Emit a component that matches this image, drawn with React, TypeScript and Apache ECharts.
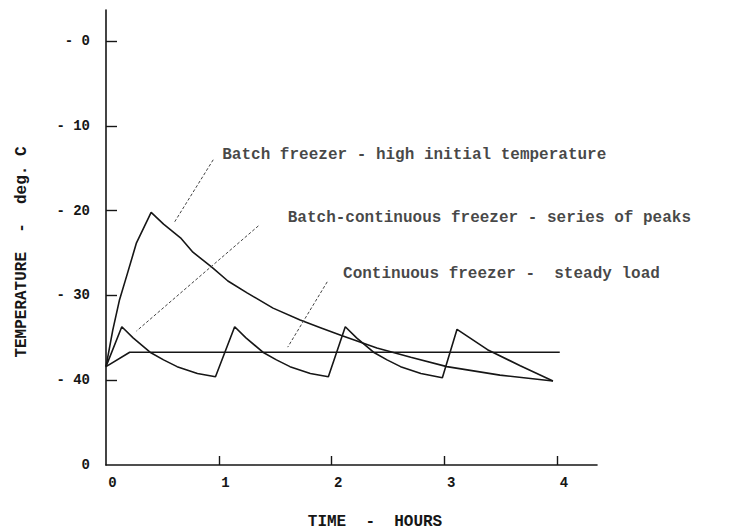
import React, { useEffect, useRef } from "react";
import * as echarts from "echarts";

// Time in hours, temperature in deg C
const batchFreezer: [number, number][] = [
  [0, -38.4], [0.06, -34.1], [0.12, -30.5], [0.19, -27.4], [0.27, -23.8], [0.4, -20.2],
  [0.51, -21.6], [0.66, -23.2], [0.77, -24.9], [0.94, -26.7], [1.08, -28.3],
  [1.25, -29.7], [1.48, -31.5], [1.72, -32.9], [1.9, -33.8], [2.08, -34.7],
  [2.4, -36.2], [2.7, -37.3], [3.02, -38.4], [3.49, -39.4], [3.96, -40.1],
];
const batchContinuousFreezer: [number, number][] = [
  [0, -38.4], [0.14, -33.7], [0.24, -35.0], [0.39, -36.7], [0.51, -37.6], [0.63, -38.4], [0.81, -39.2], [0.97, -39.6],
  [1.14, -33.7], [1.24, -35.0], [1.39, -36.7], [1.51, -37.6], [1.63, -38.4], [1.81, -39.2], [1.97, -39.6],
  [2.12, -33.7], [2.22, -35.0], [2.37, -36.7], [2.49, -37.6], [2.61, -38.4], [2.79, -39.2], [2.98, -39.7],
  [3.11, -34.0], [3.38, -36.4], [3.67, -38.3], [3.96, -40.1],
];
const continuousFreezer: [number, number][] = [
  [0, -38.4], [0.21, -36.7], [4.02, -36.7],
];

const annotationTexts = [
  "Batch freezer - high initial temperature",
  "Batch-continuous freezer - series of peaks",
  "Continuous freezer -  steady load",
];
const annotationAnchors: [number, number][] = [
  [1.03, -13.4], [1.61, -20.9], [2.1, -27.5],
];
const leaderLines: [number, number][][] = [
  [[0.95, -14.0], [0.6, -21.5]],
  [[1.35, -21.8], [0.27, -34.2]],
  [[1.96, -28.4], [1.61, -36.1]],
];

const xTickValues = [0, 1, 2, 3, 4];
const xTickLabels = ["0", "1", "2", "3", "4"];
const yTickValues = [-50, -40, -30, -20, -10, 0];
const yTickLabels = ["0", "- 40", "- 30", "- 20", "- 10", "- 0"];

const xTitle = "TIME  -  HOURS";
const yTitle = "TEMPERATURE  -  deg. C";

const FONT = "'Liberation Mono', 'DejaVu Sans Mono', monospace";
const INK = "#161616";

export default function App() {
  const ref = useRef<HTMLDivElement>(null);

  useEffect(() => {
    if (!ref.current) return;
    const chart = echarts.init(ref.current, undefined, { renderer: "svg" });

    const curve = (data: [number, number][]) => ({
      type: "line",
      data,
      showSymbol: false,
      symbol: "none",
      silent: true,
      lineStyle: { color: INK, width: 1.6 },
    });

    const option: any = {
      animation: false,
      backgroundColor: "#ffffff",
      grid: { left: 106, right: 133, top: 10, bottom: 66, containLabel: false },
      xAxis: {
        type: "value",
        min: 0,
        max: 4.35,
        splitLine: { show: false },
        axisLine: { show: true, onZero: false, lineStyle: { color: INK, width: 1.6 } },
        axisTick: {
          show: true,
          inside: true,
          length: 9,
          customValues: xTickValues.slice(1),
          lineStyle: { color: INK, width: 1.4 },
        },
        axisLabel: {
          customValues: xTickValues,
          formatter: (v: number) => xTickLabels[xTickValues.indexOf(v)] ?? "",
          fontFamily: FONT,
          fontWeight: "bold",
          fontSize: 14,
          color: INK,
          margin: 11,
          padding: [0, 0, 0, 13],
        },
      },
      yAxis: {
        type: "value",
        min: -50,
        max: 3.66,
        splitLine: { show: false },
        axisLine: { show: true, onZero: false, lineStyle: { color: INK, width: 1.6 } },
        axisTick: {
          show: true,
          inside: true,
          length: 11,
          customValues: yTickValues.slice(1),
          lineStyle: { color: INK, width: 1.4 },
        },
        axisLabel: {
          customValues: yTickValues,
          formatter: (v: number) => yTickLabels[yTickValues.indexOf(v)] ?? "",
          fontFamily: FONT,
          fontWeight: "bold",
          fontSize: 14,
          color: INK,
          margin: 16,
        },
      },
      series: [
        curve(batchFreezer),
        curve(batchContinuousFreezer),
        curve(continuousFreezer),
        ...leaderLines.map((seg) => ({
          type: "line",
          data: seg,
          showSymbol: false,
          symbol: "none",
          silent: true,
          lineStyle: { color: "#444", width: 1, type: [3, 2] },
        })),
        {
          type: "scatter",
          symbolSize: 0,
          silent: true,
          data: annotationAnchors.map((p, i) => ({ value: p, name: annotationTexts[i] })),
          label: {
            show: true,
            position: "right",
            distance: 0,
            formatter: "{b}",
            fontFamily: FONT,
            fontWeight: "bold",
            fontSize: 16,
            color: INK,
          },
        },
      ],
      graphic: [
        {
          type: "text",
          x: 375,
          y: 522,
          silent: true,
          style: {
            text: xTitle,
            fontFamily: FONT,
            fontWeight: "bold",
            fontSize: 16,
            fill: INK,
            align: "center",
            verticalAlign: "middle",
          },
        },
        {
          type: "text",
          x: 22,
          y: 252,
          rotation: Math.PI / 2,
          silent: true,
          style: {
            text: yTitle,
            fontFamily: FONT,
            fontWeight: "bold",
            fontSize: 16,
            fill: INK,
            align: "center",
            verticalAlign: "middle",
          },
        },
      ],
    };

    chart.setOption(option);
    return () => chart.dispose();
  }, []);

  return (
    <div
      ref={ref}
      style={{ position: "fixed", left: 0, top: 0, width: 730, height: 531, background: "#fff" }}
    />
  );
}
